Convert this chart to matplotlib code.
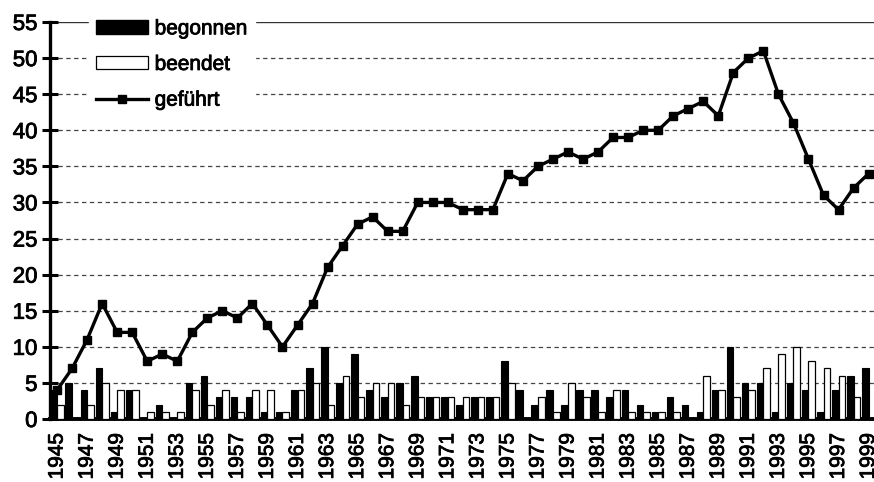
import matplotlib
matplotlib.use("Agg")
import matplotlib.pyplot as plt
import matplotlib.patheffects as pe
import numpy as np
from matplotlib.patches import Patch
from matplotlib.lines import Line2D

plt.rcParams['font.family'] = ['Liberation Sans', 'DejaVu Sans']

years = list(range(1945, 2000))
begonnen = [4, 5, 4, 7, 1, 4, 0, 2, 0, 5,
            6, 3, 3, 3, 1, 1, 4, 7, 10, 5,
            9, 4, 3, 5, 6, 3, 3, 2, 3, 3,
            8, 4, 2, 4, 2, 4, 4, 3, 4, 2,
            1, 3, 2, 1, 4, 10, 5, 5, 1, 5,
            4, 1, 4, 6, 7]
beendet = [2, 0, 2, 5, 4, 4, 1, 1, 1, 4,
           2, 4, 1, 4, 4, 1, 4, 5, 2, 6,
           3, 5, 5, 2, 3, 3, 3, 3, 3, 3,
           5, 0, 3, 1, 5, 3, 1, 4, 1, 1,
           1, 1, 0, 6, 4, 3, 4, 7, 9, 10,
           8, 7, 6, 3, 0]
gefuehrt = [4, 7, 11, 16, 12, 12, 8, 9, 8, 12,
            14, 15, 14, 16, 13, 10, 13, 16, 21, 24,
            27, 28, 26, 26, 30, 30, 30, 29, 29, 29,
            34, 33, 35, 36, 37, 36, 37, 39, 39, 40,
            40, 42, 43, 44, 42, 48, 50, 51, 45, 41,
            36, 31, 29, 32, 34]
yticks = list(range(0, 56, 5))
labels = ["begonnen", "beendet", "geführt"]

W, H = 874, 482
fig = plt.figure(figsize=(W / 100, H / 100), dpi=100)
ax = fig.add_axes([50 / W, 1 - 419 / H, (W - 50) / W, (419 - 22) / H])

x = np.arange(len(years))
bw = 0.44
ax.bar(x - bw, begonnen, width=bw, align='edge', color='black',
       edgecolor='black', linewidth=0.8, zorder=3)
ax.bar(x, beendet, width=bw, align='edge', color='white',
       edgecolor='black', linewidth=0.9, zorder=3)
ax.plot(x, gefuehrt, color='black', linewidth=2.4, marker='s',
        markersize=6, zorder=4)

for v in yticks[1:]:
    if v == 55:
        ax.axhline(v, color='#333333', linewidth=1.0, linestyle='-', zorder=1)
    else:
        ax.axhline(v, color='#444444', linewidth=0.9, linestyle=(0, (3.5, 2.8)),
                   zorder=1)

ax.set_xlim(-0.47, 54.36)
ax.set_ylim(0, 55)
ax.set_yticks(yticks)
ax.set_yticklabels([str(v) for v in yticks], fontsize=16)
ax.set_xticks(x[::2])
ax.set_xticklabels([str(y) for y in years[::2]], rotation=90, fontsize=15)

thick = [pe.withStroke(linewidth=0.6, foreground='black')]
for t in ax.get_xticklabels() + ax.get_yticklabels():
    t.set_path_effects(thick)

for s in ['top', 'right']:
    ax.spines[s].set_visible(False)
ax.spines['left'].set_linewidth(2.4)
ax.spines['bottom'].set_linewidth(2.8)
ax.tick_params(axis='y', direction='inout', length=12, width=2.2, pad=3)
ax.tick_params(axis='x', length=0, pad=10)

handles = [Patch(facecolor='black', edgecolor='black'),
           Patch(facecolor='white', edgecolor='black', linewidth=0.9),
           Line2D([0], [0], color='black', linewidth=2.4, marker='s',
                  markersize=6)]
leg = ax.legend(handles, labels, loc='upper left',
                bbox_to_anchor=(89 / W, 1 - 12 / H), bbox_transform=fig.transFigure,
                frameon=True, fancybox=False, framealpha=1, edgecolor='white',
                facecolor='white', fontsize=15, handlelength=2.5,
                handleheight=0.6, handletextpad=0.3, labelspacing=0.8,
                borderpad=0.35, borderaxespad=0)
leg.set_zorder(5)
for t in leg.get_texts():
    t.set_path_effects(thick)

fig.savefig("out.png", dpi=100)
